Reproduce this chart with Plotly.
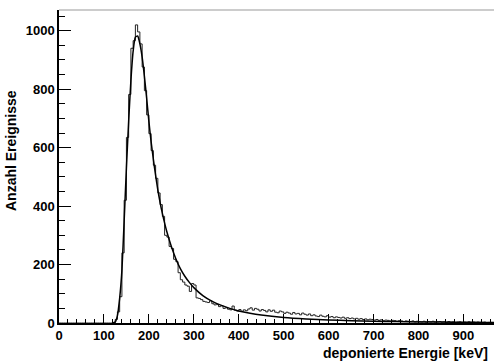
import plotly.graph_objects as go

# Histogram: 5 keV bins, left edges 0..995 keV
bin_width = 5
counts = [
    0, 0, 0, 0, 0, 0, 0, 0, 0, 0,            # 0-45
    0, 0, 0, 0, 0, 0, 0, 0, 0, 0,            # 50-95
    0, 0, 0, 0, 2, 12, 38, 90, 240, 420,     # 100-145
    635, 782, 940, 966, 1020, 996, 955, 876, 795, 712,   # 150-195
    648, 590, 540, 495, 445, 405, 365, 300, 294, 262,    # 200-245
    255, 218, 210, 172, 148, 140, 130, 126, 108, 135,    # 250-295
    130, 86, 84, 80, 74, 72, 70, 76, 66, 62,             # 300-345
    63, 56, 59, 50, 52, 47, 45, 58, 44, 41,              # 350-395
    46, 40, 45, 42, 48, 52, 44, 50, 47, 41,              # 400-445
    46, 43, 38, 45, 40, 44, 37, 35, 41, 38,              # 450-495
    33, 37, 34, 30, 36, 31, 33, 28, 34, 30,              # 500-545
    27, 31, 25, 28, 24, 22, 27, 23, 21, 25,              # 550-595
    20, 22, 18, 21, 19, 17, 20, 16, 18, 15,              # 600-645
    17, 14, 16, 13, 15, 12, 14, 11, 13, 12,              # 650-695
    10, 12, 9, 11, 8, 10, 9, 7, 9, 8,                    # 700-745
    6, 8, 7, 5, 7, 6, 5, 7, 4, 6,                        # 750-795
    5, 4, 6, 3, 5, 4, 6, 3, 4, 5,                        # 800-845
    3, 4, 2, 5, 3, 4, 2, 3, 4, 2,                        # 850-895
    3, 2, 4, 2, 3, 1, 3, 2, 2, 3,                        # 900-945
    1, 2, 2, 1, 1, 2, 1, 1, 2, 1,                        # 950-995
]
bin_edges = [i * bin_width for i in range(len(counts) + 1)]

# Fit curve
fit_x = [120, 125, 130, 135, 140, 145, 150, 155, 160, 165, 170, 175, 180, 185,
         190, 195, 200, 205, 210, 215, 220, 225, 230, 240, 250, 260, 270, 280,
         290, 300, 320, 340, 360, 380, 400, 425, 450, 500, 550, 600, 650, 700,
         750, 800, 850, 900, 950, 970]
fit_y = [0, 3, 25, 85, 180, 350, 530, 690, 830, 930, 978, 982, 955, 910,
         845, 770, 690, 620, 560, 505, 455, 412, 375, 312, 262, 220, 186, 160,
         139, 121, 94, 75, 61, 50, 41, 33, 27, 19, 14, 10.5, 8, 6,
         4.8, 3.8, 3, 2.5, 2, 1.8]

x_ticks = [0, 100, 200, 300, 400, 500, 600, 700, 800, 900]
y_ticks = [0, 200, 400, 600, 800, 1000]

FONT = "Liberation Sans"

fig = go.Figure()
hx = bin_edges
hy = counts + [counts[-1]]
fig.add_trace(go.Scatter(x=hx, y=hy, mode="lines", line=dict(color="#222222", width=1, shape="hv"),
                         hoverinfo="skip", showlegend=False))
fig.add_trace(go.Scatter(x=fit_x, y=fit_y, mode="lines",
                         line=dict(color="black", width=1.5, shape="spline", smoothing=0.6),
                         hoverinfo="skip", showlegend=False))

fig.update_layout(
    width=494, height=363,
    margin=dict(l=59, r=0, t=10, b=40),
    paper_bgcolor="white", plot_bgcolor="white",
    font=dict(family=FONT, color="black"),
    showlegend=False,
    xaxis=dict(
        range=[0, 968], tickmode="array", tickvals=x_ticks,
        ticktext=["<b>%d</b>" % v for v in x_ticks],
        ticks="inside", ticklen=9, tickwidth=1, tickcolor="black",
        minor=dict(dtick=20, tick0=0, ticks="inside", ticklen=4, tickwidth=1, tickcolor="black"),
        showline=True, linecolor="black", linewidth=1.5,
        showgrid=False, zeroline=False,
        tickfont=dict(family=FONT, size=13, color="black"),
    ),
    yaxis=dict(
        range=[0, 1071], tickmode="array", tickvals=y_ticks,
        ticktext=["<b>%d</b>" % v for v in y_ticks],
        ticks="inside", ticklen=12, tickwidth=1, tickcolor="black",
        minor=dict(dtick=50, tick0=0, ticks="inside", ticklen=6, tickwidth=1, tickcolor="black"),
        showline=True, linecolor="black", linewidth=1.5,
        showgrid=False, zeroline=False,
        tickfont=dict(family=FONT, size=13, color="black"),
    ),
    shapes=[dict(type="line", xref="paper", yref="paper", x0=0, x1=1, y0=1, y1=1,
                 line=dict(color="#999999", width=1))],
    annotations=[
        dict(text="<b>deponierte Energie [keV]</b>", xref="paper", yref="paper",
             x=(490 - 59) / 435, y=-(353 - 323) / 313, xanchor="right", yanchor="middle",
             showarrow=False, font=dict(family=FONT, size=14, color="black")),
        dict(text="<b>Anzahl Ereignisse</b>", xref="paper", yref="paper",
             x=-(59 - 11) / 435, y=(323 - 151) / 313, xanchor="center", yanchor="middle",
             textangle=-90, showarrow=False,
             font=dict(family=FONT, size=14, color="black")),
    ],
)

fig.write_html("out.html")
